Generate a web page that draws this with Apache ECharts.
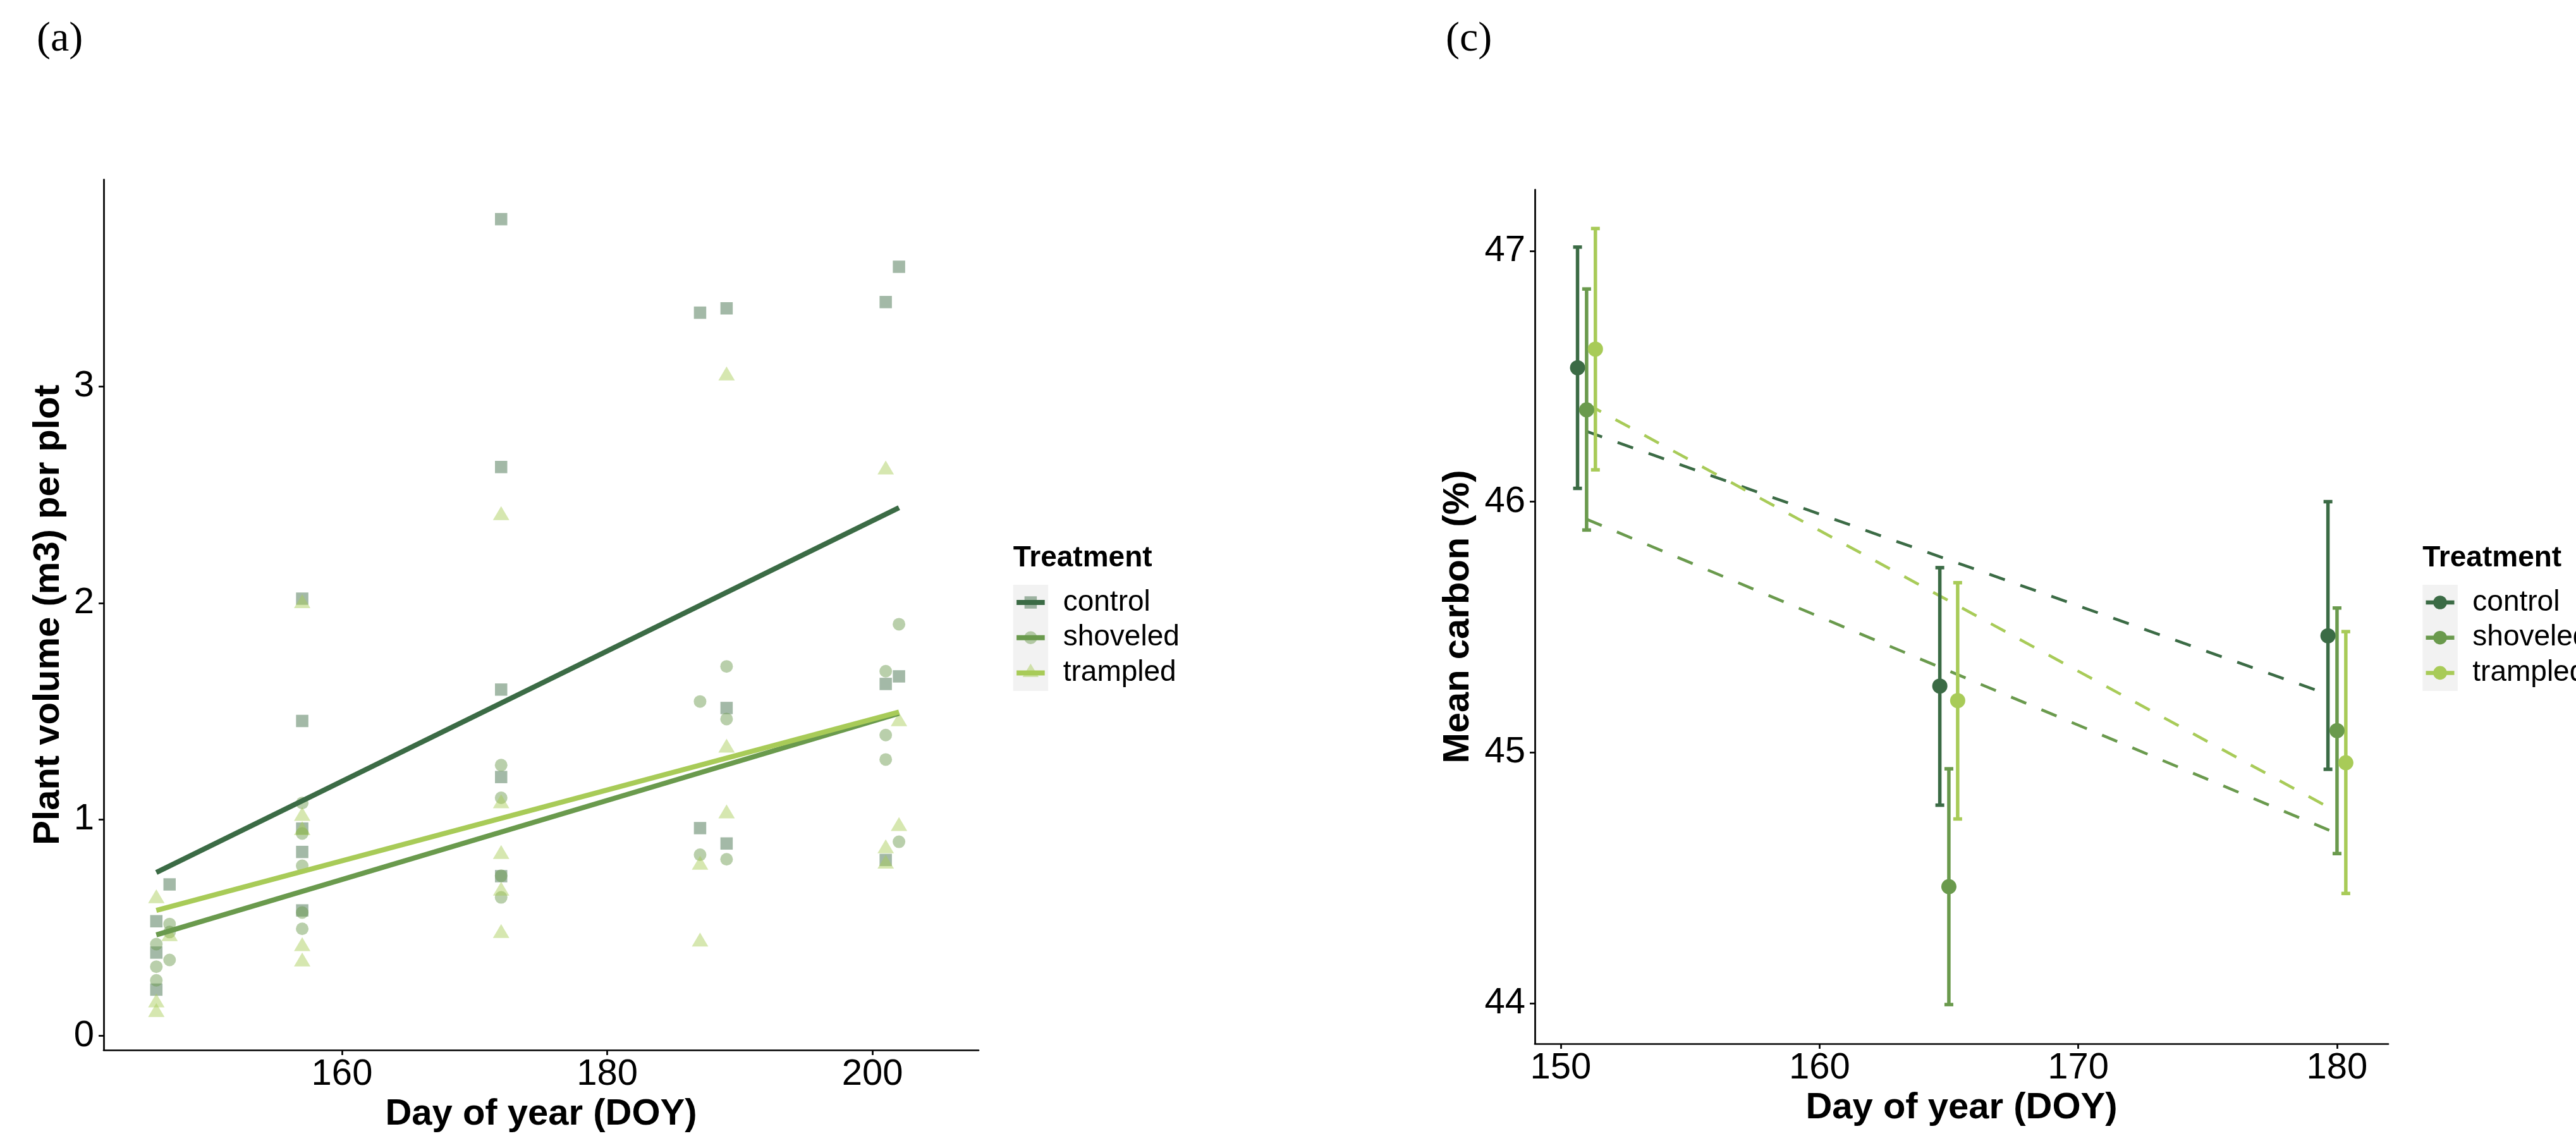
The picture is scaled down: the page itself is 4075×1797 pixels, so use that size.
<!DOCTYPE html>
<html><head><meta charset="utf-8">
<script src="https://cdn.jsdelivr.net/npm/echarts@6/dist/echarts.min.js"></script>
<style>html,body{margin:0;padding:0;background:#fff}#c{width:4075px;height:1797px}</style>
</head><body><div id="c"></div>
<script>
// ---------- data ----------
const treatments = ['control', 'shoveled', 'trampled'];
const colors = ['#3b6b45', '#6a9a4d', '#a8cb58'];

// Panel (a): plant volume (m3) per plot vs DOY
const volDaysControl = [146,146,146,147,157,157,157,157,157,172,172,172,172,172,187,187,189,189,189,201,201,201,202,202];
const volControl     = [0.53,0.385,0.214,0.70,2.02,1.455,0.958,0.85,0.58,3.773,2.628,1.60,1.196,0.738,3.341,0.96,3.361,1.515,0.889,3.39,1.626,0.813,3.553,1.661];
const volDaysShoveled = [146,146,146,147,147,147,157,157,157,157,157,172,172,172,172,187,187,189,189,189,201,201,201,202,202];
const volShoveled     = [0.424,0.32,0.257,0.517,0.48,0.351,1.076,0.935,0.786,0.57,0.495,1.251,1.10,0.74,0.64,1.545,0.837,1.707,1.464,0.816,1.685,1.39,1.277,1.902,0.897];
const volDaysTrampled = [146,146,146,147,157,157,157,157,157,172,172,172,172,172,187,187,189,189,189,201,201,201,202,202];
const volTrampled     = [0.645,0.164,0.12,0.47,2.008,1.026,0.96,0.424,0.353,2.415,1.084,0.85,0.68,0.485,0.80,0.445,3.06,1.341,1.037,2.626,0.876,0.805,1.463,0.979];
const volTrendDays = [146, 202];
const volTrendControl  = [0.755, 2.44];
const volTrendShoveled = [0.467, 1.49];
const volTrendTrampled = [0.58, 1.496];
const volXTicks = [160, 180, 200];
const volYTicks = [0, 1, 2, 3];

// Panel (c): mean carbon (%) vs DOY
const carbonDays = [151, 165, 180];
const carbonControl  = [46.534, 45.265, 45.465];
const carbonShoveled = [46.366, 44.465, 45.087];
const carbonTrampled = [46.608, 45.207, 44.959];
const carbonLowControl  = [46.053, 44.79, 44.933];
const carbonHighControl = [47.015, 45.737, 46.0];
const carbonLowShoveled  = [45.887, 43.995, 44.597];
const carbonHighShoveled = [46.848, 44.935, 45.576];
const carbonLowTrampled  = [46.127, 44.735, 44.438];
const carbonHighTrampled = [47.089, 45.677, 45.482];
const carbonTrendDays = [151, 179.7];
const carbonTrendControl  = [46.28, 45.23];
const carbonTrendShoveled = [45.93, 44.69];
const carbonTrendTrampled = [46.39, 44.78];
const carbonXTicks = [150, 160, 170, 180];
const carbonYTicks = [44, 45, 46, 47];

// ---------- build ----------
const FONT = '"Liberation Sans", Arial, Helvetica, sans-serif';
const zip = (a, b) => a.map((v, i) => [v, b[i]]);
const dodge = [-0.35, 0, 0.34];

function xAxisCfg(gi, min, max, ticks) {
  return {
    type: 'value', gridIndex: gi, min: min, max: max,
    name: 'Day of year (DOY)', nameLocation: 'middle', nameGap: 73,
    nameTextStyle: {fontSize: 58, fontWeight: 'bold', color: '#000', fontFamily: FONT},
    axisLine: {onZero: false, lineStyle: {color: '#000', width: 2.7}},
    axisTick: {customValues: ticks, length: 8, lineStyle: {color: '#000', width: 2.7}},
    axisLabel: {customValues: ticks, fontSize: 58, color: '#000', margin: 10, fontFamily: FONT},
    splitLine: {show: false}
  };
}
function yAxisCfg(gi, min, max, ticks, name, gap) {
  return {
    type: 'value', gridIndex: gi, min: min, max: max,
    name: name, nameLocation: 'middle', nameGap: gap,
    nameTextStyle: {fontSize: 58, fontWeight: 'bold', color: '#000', fontFamily: FONT},
    axisLine: {show: true, onZero: false, lineStyle: {color: '#000', width: 2.7}},
    axisTick: {show: true, customValues: ticks, length: 8, lineStyle: {color: '#000', width: 2.7}},
    axisLabel: {customValues: ticks, fontSize: 58, color: '#000', margin: 15, fontFamily: FONT},
    splitLine: {show: false}
  };
}

const volDays = [volDaysControl, volDaysShoveled, volDaysTrampled];
const volVals = [volControl, volShoveled, volTrampled];
const volTrends = [volTrendControl, volTrendShoveled, volTrendTrampled];
const volSymbols = ['rect', 'circle', 'triangle'];
const volSizes = [[19.5, 19.5], 20, [26, 22]];

const carbonMeans = [carbonControl, carbonShoveled, carbonTrampled];
const carbonLows = [carbonLowControl, carbonLowShoveled, carbonLowTrampled];
const carbonHighs = [carbonHighControl, carbonHighShoveled, carbonHighTrampled];
const carbonTrends = [carbonTrendControl, carbonTrendShoveled, carbonTrendTrampled];

const series = [];
// panel (a) points
treatments.forEach((t, i) => {
  series.push({
    type: 'scatter', name: t + '-pts', xAxisIndex: 0, yAxisIndex: 0,
    symbol: volSymbols[i], symbolSize: volSizes[i], z: 2,
    itemStyle: {color: colors[i], opacity: 0.47},
    emphasis: {disabled: true},
    data: zip(volDays[i], volVals[i])
  });
});
// panel (a) trend lines
treatments.forEach((t, i) => {
  series.push({
    type: 'line', name: t + '-fit', xAxisIndex: 0, yAxisIndex: 0,
    symbol: 'none', z: 5, silent: true,
    lineStyle: {color: colors[i], width: 8, cap: 'butt'},
    data: zip(volTrendDays, volTrends[i])
  });
});
// panel (c) dashed trend lines
treatments.forEach((t, i) => {
  series.push({
    type: 'line', name: t + '-cfit', xAxisIndex: 1, yAxisIndex: 1,
    symbol: 'none', z: 3, silent: true,
    lineStyle: {color: colors[i], width: 4.5, type: [26, 26], cap: 'butt'},
    data: zip(carbonTrendDays, carbonTrends[i])
  });
});
// panel (c) error bars
treatments.forEach((t, i) => {
  const col = colors[i];
  series.push({
    type: 'custom', name: t + '-err', xAxisIndex: 1, yAxisIndex: 1, z: 4, silent: true,
    encode: {x: 0, y: [1, 2]},
    data: carbonDays.map((d, k) => [d + dodge[i], carbonLows[i][k], carbonHighs[i][k]]),
    renderItem: function (params, api) {
      const x = api.value(0);
      const pLo = api.coord([x, api.value(1)]);
      const pHi = api.coord([x, api.value(2)]);
      const hw = 7;
      const st = {stroke: col, lineWidth: 5.5, lineCap: 'butt'};
      return {type: 'group', children: [
        {type: 'line', shape: {x1: pLo[0], y1: pLo[1], x2: pHi[0], y2: pHi[1]}, style: st},
        {type: 'line', shape: {x1: pLo[0] - hw, y1: pLo[1], x2: pLo[0] + hw, y2: pLo[1]}, style: st},
        {type: 'line', shape: {x1: pHi[0] - hw, y1: pHi[1], x2: pHi[0] + hw, y2: pHi[1]}, style: st}
      ]};
    }
  });
});
// panel (c) mean points
treatments.forEach((t, i) => {
  series.push({
    type: 'scatter', name: t + '-mean', xAxisIndex: 1, yAxisIndex: 1,
    symbol: 'circle', symbolSize: 24, z: 6,
    itemStyle: {color: colors[i], opacity: 1},
    emphasis: {disabled: true},
    data: carbonDays.map((d, k) => [d + dodge[i], carbonMeans[i][k]])
  });
});

// ---------- legends & panel labels (graphic) ----------
const graphics = [];
function txt(x, y, text, font, va) {
  return {type: 'text', z: 100, style: {x: x, y: y, text: text, font: font, fill: '#000', verticalAlign: va || 'middle', align: 'left'}};
}
graphics.push(txt(58, 85 - 0.3375 * 66, '(a)', '66px "Liberation Serif", "Times New Roman", serif'));
graphics.push(txt(2287, 85 - 0.3375 * 66, '(c)', '66px "Liberation Serif", "Times New Roman", serif'));

function legend(x0, kind) {
  graphics.push(txt(x0, 899 - 0.3465 * 46, 'Treatment', 'bold 46px ' + FONT));
  graphics.push({type: 'rect', z: 99, shape: {x: x0, y: 925, width: 55.5, height: 168}, style: {fill: '#f2f2f2'}});
  const cx = x0 + 27.7;
  treatments.forEach((t, i) => {
    const cy = 953 + 55.7 * i;
    if (kind === 'a') {
      let m;
      if (i === 0) m = {type: 'rect', shape: {x: cx - 9.75, y: cy - 9.75, width: 19.5, height: 19.5}};
      else if (i === 1) m = {type: 'circle', shape: {cx: cx, cy: cy, r: 10.3}};
      else m = {type: 'polygon', shape: {points: [[cx - 12.7, cy + 6.7], [cx + 12.7, cy + 6.7], [cx, cy - 14.7]]}};
      m.z = 100; m.style = {fill: colors[i], opacity: 0.47};
      graphics.push(m);
      graphics.push({type: 'rect', z: 101, shape: {x: cx - 22.3, y: cy - 4, width: 44.6, height: 8}, style: {fill: colors[i]}});
    } else {
      graphics.push({type: 'rect', z: 100, shape: {x: cx - 22.5, y: cy - 3.25, width: 45, height: 6.5}, style: {fill: colors[i]}});
      graphics.push({type: 'circle', z: 101, shape: {cx: cx, cy: cy, r: 10.8}, style: {fill: colors[i]}});
    }
    graphics.push(txt(x0 + 79, cy, t, '46px ' + FONT));
  });
}
legend(1602.7, 'a');
legend(3832.3, 'c');

const chart = echarts.init(document.getElementById('c'), null, {renderer: 'canvas'});
chart.setOption({
  backgroundColor: '#ffffff',
  animation: false,
  grid: [
    {left: 164, top: 284, width: 1384, height: 1383, containLabel: false},
    {left: 2428, top: 300, width: 1350, height: 1351, containLabel: false}
  ],
  xAxis: [xAxisCfg(0, 142.03, 208, volXTicks), xAxisCfg(1, 149.0, 181.98, carbonXTicks)],
  yAxis: [
    yAxisCfg(0, -0.065, 3.956, volYTicks, 'Plant volume (m3) per plot', 58),
    yAxisCfg(1, 43.839, 47.244, carbonYTicks, 'Mean carbon (%)', 92)
  ],
  series: series,
  graphic: graphics
});
</script>
</body></html>
